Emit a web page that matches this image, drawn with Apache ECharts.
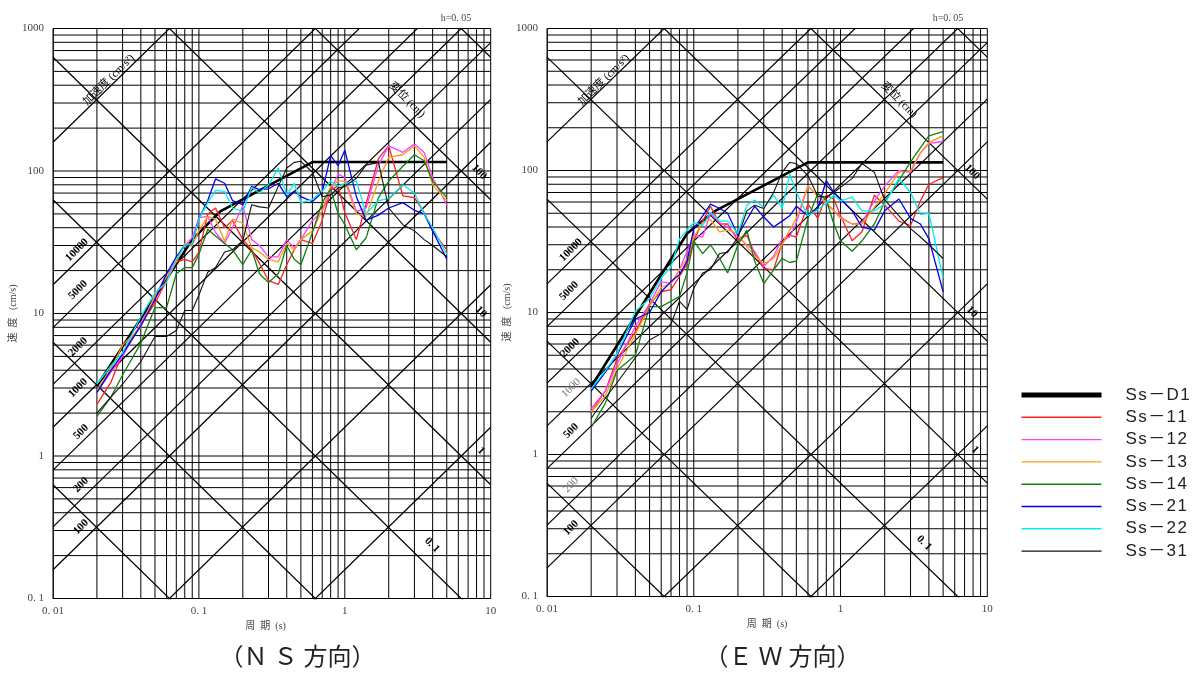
<!DOCTYPE html>
<html><head><meta charset="utf-8">
<style>html,body{margin:0;padding:0;background:#fff}#c{width:1195px;height:675px}</style>
<script src="https://cdn.jsdelivr.net/npm/echarts@6/dist/echarts.min.js"></script>
</head><body><div id="c"></div>
<script>
const periods=[0.02,0.025,0.03,0.04,0.05,0.06,0.07,0.08,0.09,0.1,0.115,0.13,0.15,0.17,0.2,0.23,0.26,0.3,0.35,0.4,0.45,0.5,0.6,0.7,0.8,0.9,1,1.2,1.4,1.7,2,2.5,3,3.5,4,5];
const d1Periods=[0.02,0.09,0.14,0.6,5];
const ns_D1=[3.1,33,52,115.6,115.6];
const ns_11=[2.3,3.3,5.3,8.4,11.8,17,23,24,23,27,50,55,40,45,33,28,22.5,17,16,22,28,33,31,45,73,79,51,33,59,122,150,67,65,51,38,28];
const ns_12=[2.8,3.9,5,8.5,13,19,24,30,34,47,48,37,31,40,57,33,30,25,25,33,29,33,45,52,73,95,90,52,55,110,150,135,155,135,90,58];
const ns_13=[2.9,4.1,6,8,13.5,18,23,31,30,38,48,46,32,46,43,29,27,24,23,31,28,33,38,53,78,85,85,50,48,85,125,130,150,125,80,62];
const ns_14=[1.9,2.6,3.7,6.2,11,11,19,21,21,26,39,35,31,28,22,28,19,16.5,19,30,24,22,37,60,75,50,42,28,34,65,85,108,130,118,85,65];
const ns_21=[2.8,4,5.2,8.2,12.5,19,25,30,31,46,62,88,82,62,58,78,74,75,82,66,72,66,61,71,128,109,140,66,45,49,55,60,53,50,38,24];
const ns_22=[3.2,4.3,5.3,9.5,14,16.5,24,30,31,46,60,73,72,55,52,77,70,80,105,68,82,60,63,72,85,78,82,85,50,62,64,80,70,50,40,26];
const ns_31=[2,2.6,3.2,4.6,6.9,6.9,7.6,10.5,10.5,13.5,19.5,21,27,28,32.5,58,56,55,78,105,115,117,98,66,68,76,78,89,110,115,55,42,38,33,30,25];
const ew_D1=[3,36,52,114,114];
const ew_11=[2,2.8,4.7,7.3,11.5,14,14.5,18,22,32,44,56,42,42,32,35,26,20.4,20,31,35,34,58,46,67,63,48,32,37,67,57,44,41,61,80,89];
const ew_12=[2.1,2.8,4.3,8,11.5,16.5,16,20,27,35,34,50,43,40,34,30,27,21,25,33,34,43,78,66,58,52,47,42,43,61,78,100,97,133,155,160];
const ew_13=[2,2.6,4,7,11,15,16,20,24,34,43,45,37,38,36,29,25,22,24,30,38,46,78,66,60,52,46,42,42,55,69,97,100,133,157,176];
const ew_14=[1.55,2.3,3.9,5,11,11,12,13,19,32,26,30,24,19,30,38,23,16,20,24,22.5,23,46,69,62,42,32,27,32,42,60,85,115,145,175,188];
const ew_21=[2.8,3.8,5,9,10,14,16.5,18.5,23,39,48,58,54,50,35,45,56,47,40,44,48,56,48,54,85,70,63,52,40,38,52,63,46,42,33,14];
const ew_22=[2.9,3.9,5.1,10.2,12.5,17.5,21,33,38,43,41,51,44,44,36,57,62,55,67,54,95,70,48,53,59,67,61,65,52,52,58,88,70,49,50,17.5];
const ew_31=[1.8,2.5,3.2,4.8,6.4,7.1,8.3,12,10.5,14.8,19,20,26,26.5,34,52,57,54,70,97,114,112,92,66,65,70,76,88,112,97,62,48,39,34,30,24];
const seriesNames=['Ss－D1','Ss－11','Ss－12','Ss－13','Ss－14','Ss－21','Ss－22','Ss－31'];
const seriesColors=['#000','#ff2020','#ff40ff','#ff9a10','#108010','#0000ee','#00eeee','#111'];
const seriesWidths=[2.6,1.3,1.3,1.3,1.3,1.3,1.3,1.1];
const legendWidths=[5,1.4,1.4,1.4,1.4,1.4,1.4,1.4];
const xTicks=[0.01,0.1,1,10];
const yTicks=[0.1,1,10,100,1000];
const xTickLabels=['0. 01','0. 1','1','10'];
const yTickLabels=['0. 1','1','10','100','1000'];
const accelLines=[100000,10000,5000,2000,1000,500,200,100,10,1];
const dispLines=[0.001,0.01,0.1,1,10,100,1000];
const multipliers=[1,2,3,4,5,6,7,8,9];
const accelLabels=[['10000',77,250],['5000',78,290],['2000',78,347],['1000',78,388],['500',81,432],['200',81,485],['100',81,527]];
const accelLabelsR=[['10000',571,250],['5000',569,291],['2000',570,348],['1000',571,388],['500',571,431],['200',571,485],['100',571,528]];
const dispLabels=[['100',479,172],['10',481,312],['1',481,451],['0. 1',432,545]];
const dispLabelsR=[['100',972,172],['10',972,312],['1',975,450],['0. 1',924,543]];

const SERIF='"Liberation Serif","Noto Sans CJK JP",serif';
const grids=[{left:53,top:28.5,width:437.7,height:570},{left:547,top:28.5,width:440.3,height:568}];
const xNames=['周  期  (s)\u00a0\u00a0\u00a0\u00a0\u00a0','周  期  (s)'];
const xAxes=[],yAxes=[],series=[];
function ref(idx,data,w){series.push({type:'line',xAxisIndex:idx,yAxisIndex:idx,data,showSymbol:false,silent:true,clip:true,z:1,
  lineStyle:{color:'#000',width:w||1},emphasis:{disabled:true},animation:false,legendHoverLink:false});}
[0,1].forEach(i=>{
  xAxes.push({gridIndex:i,type:'log',logBase:10,min:0.01,max:10,name:xNames[i],nameLocation:'middle',nameGap:21,
    nameTextStyle:{fontFamily:SERIF,fontSize:10,color:'#444'},
    axisLine:{show:true,lineStyle:{color:'#333'}},axisTick:{show:false},splitLine:{show:false},minorSplitLine:{show:false},
    axisLabel:{margin:7,fontFamily:SERIF,fontSize:11,color:'#444',hideOverlap:false,showMinLabel:true,showMaxLabel:true,
      formatter:v=>{const k=xTicks.findIndex(t=>Math.abs(Math.log10(t)-Math.log10(v))<1e-6);return k<0?'':xTickLabels[k];}}});
  yAxes.push({gridIndex:i,type:'log',logBase:10,min:0.1,max:1000,name:'速  度   (cm/s)',nameLocation:'middle',nameGap:28,nameRotate:90,
    nameTextStyle:{fontFamily:SERIF,fontSize:10,color:'#444'},
    axisLine:{show:true,lineStyle:{color:'#333'}},axisTick:{show:false},splitLine:{show:false},minorSplitLine:{show:false},
    axisLabel:{margin:9,fontFamily:SERIF,fontSize:11,color:'#444',showMinLabel:true,showMaxLabel:true,
      formatter:v=>{const k=yTicks.findIndex(t=>Math.abs(Math.log10(t)-Math.log10(v))<1e-6);return k<0?'':yTickLabels[k];}}});
  [0.01,0.1,1].forEach(d=>multipliers.forEach(m=>{const x=+(d*m).toPrecision(3);ref(i,[[x,0.1],[x,1000]]);}));
  ref(i,[[10,0.1],[10,1000]]);
  [0.1,1,10,100].forEach(d=>multipliers.forEach(m=>{const y=+(d*m).toPrecision(3);ref(i,[[0.01,y],[10,y]]);}));
  ref(i,[[0.01,1000],[10,1000]]);
  accelLines.forEach(a=>ref(i,[[0.01,a*0.01/(2*Math.PI)],[10,a*10/(2*Math.PI)]],1.25));
  dispLines.forEach(d=>ref(i,[[0.01,2*Math.PI*d/0.01],[10,2*Math.PI*d/10]],1.25));
});
function add(idx,values,k,xs){
  series.push({type:'line',name:seriesNames[k],xAxisIndex:idx,yAxisIndex:idx,showSymbol:false,symbol:'none',z:5+k,clip:true,
    data:(xs||periods).map((t,j)=>[t,values[j]]),lineStyle:{color:seriesColors[k],width:seriesWidths[k]},itemStyle:{color:seriesColors[k]},
    animation:false,emphasis:{disabled:true}});
}
[ns_D1,ns_11,ns_12,ns_13,ns_14,ns_21,ns_22,ns_31].forEach((v,k)=>add(0,v,k,k===0?d1Periods:null));
[ew_D1,ew_11,ew_12,ew_13,ew_14,ew_21,ew_22,ew_31].forEach((v,k)=>add(1,v,k,k===0?d1Periods:null));

function rotText(t,x,y,rot,size,color,weight){return {type:'text',x,y,rotation:rot,z:20,silent:true,
  style:{text:t,fontFamily:SERIF,fontSize:size,fontWeight:weight||'normal',fill:color||'#222',align:'center',verticalAlign:'middle'}};}
const Q=Math.PI/4, gfx=[];
accelLabels.forEach(a=>gfx.push(rotText(a[0],a[1],a[2],Q,11,'#000','bold')));
accelLabelsR.forEach(a=>gfx.push(rotText(a[0],a[1],a[2],Q,11,a[0]==='200'||a[0]==='1000'?'#777':'#000',a[0]==='200'||a[0]==='1000'?'normal':'bold')));
dispLabels.forEach(a=>gfx.push(rotText(a[0],a[1],a[2],-Q,11,'#000','bold')));
dispLabelsR.forEach(a=>gfx.push(rotText(a[0],a[1],a[2],-Q,11,'#000','bold')));
[[109,80],[604,80]].forEach(p=>gfx.push(rotText('加速度 (cm/s²)',p[0],p[1],Q,11,'#000')));
[[407,100],[899,100]].forEach(p=>gfx.push(rotText('変位 (cm)',p[0],p[1],-Q,11,'#000')));
[['h=0. 05',456,18],['h=0. 05',948,18]].forEach(p=>gfx.push(rotText(p[0],p[1],p[2],0,10,'#444')));
[['（Ｎ Ｓ 方向）',297.5,659],['（Ｅ Ｗ 方向）',782.5,659]].forEach(p=>gfx.push(rotText(p[0],p[1],p[2],0,24,'#222')));

echarts.init(document.getElementById('c'),null,{renderer:'canvas'}).setOption({
  animation:false,backgroundColor:'#fff',grid:grids,xAxis:xAxes,yAxis:yAxes,series,graphic:gfx,
  tooltip:{show:false},
  legend:{data:seriesNames.map((n,k)=>({name:n,lineStyle:{width:legendWidths[k],color:seriesColors[k]}})),
    orient:'vertical',left:1019,top:386.5,itemWidth:80,itemHeight:14,itemGap:5.3,padding:0,selectedMode:false,
    itemStyle:{opacity:0},
    formatter:n=>n.split('').join('\u200a'),
    textStyle:{fontFamily:'"Liberation Sans","Noto Sans CJK JP",sans-serif',fontSize:17,color:'#222',padding:[0,0,0,19]}}
});
</script></body></html>
